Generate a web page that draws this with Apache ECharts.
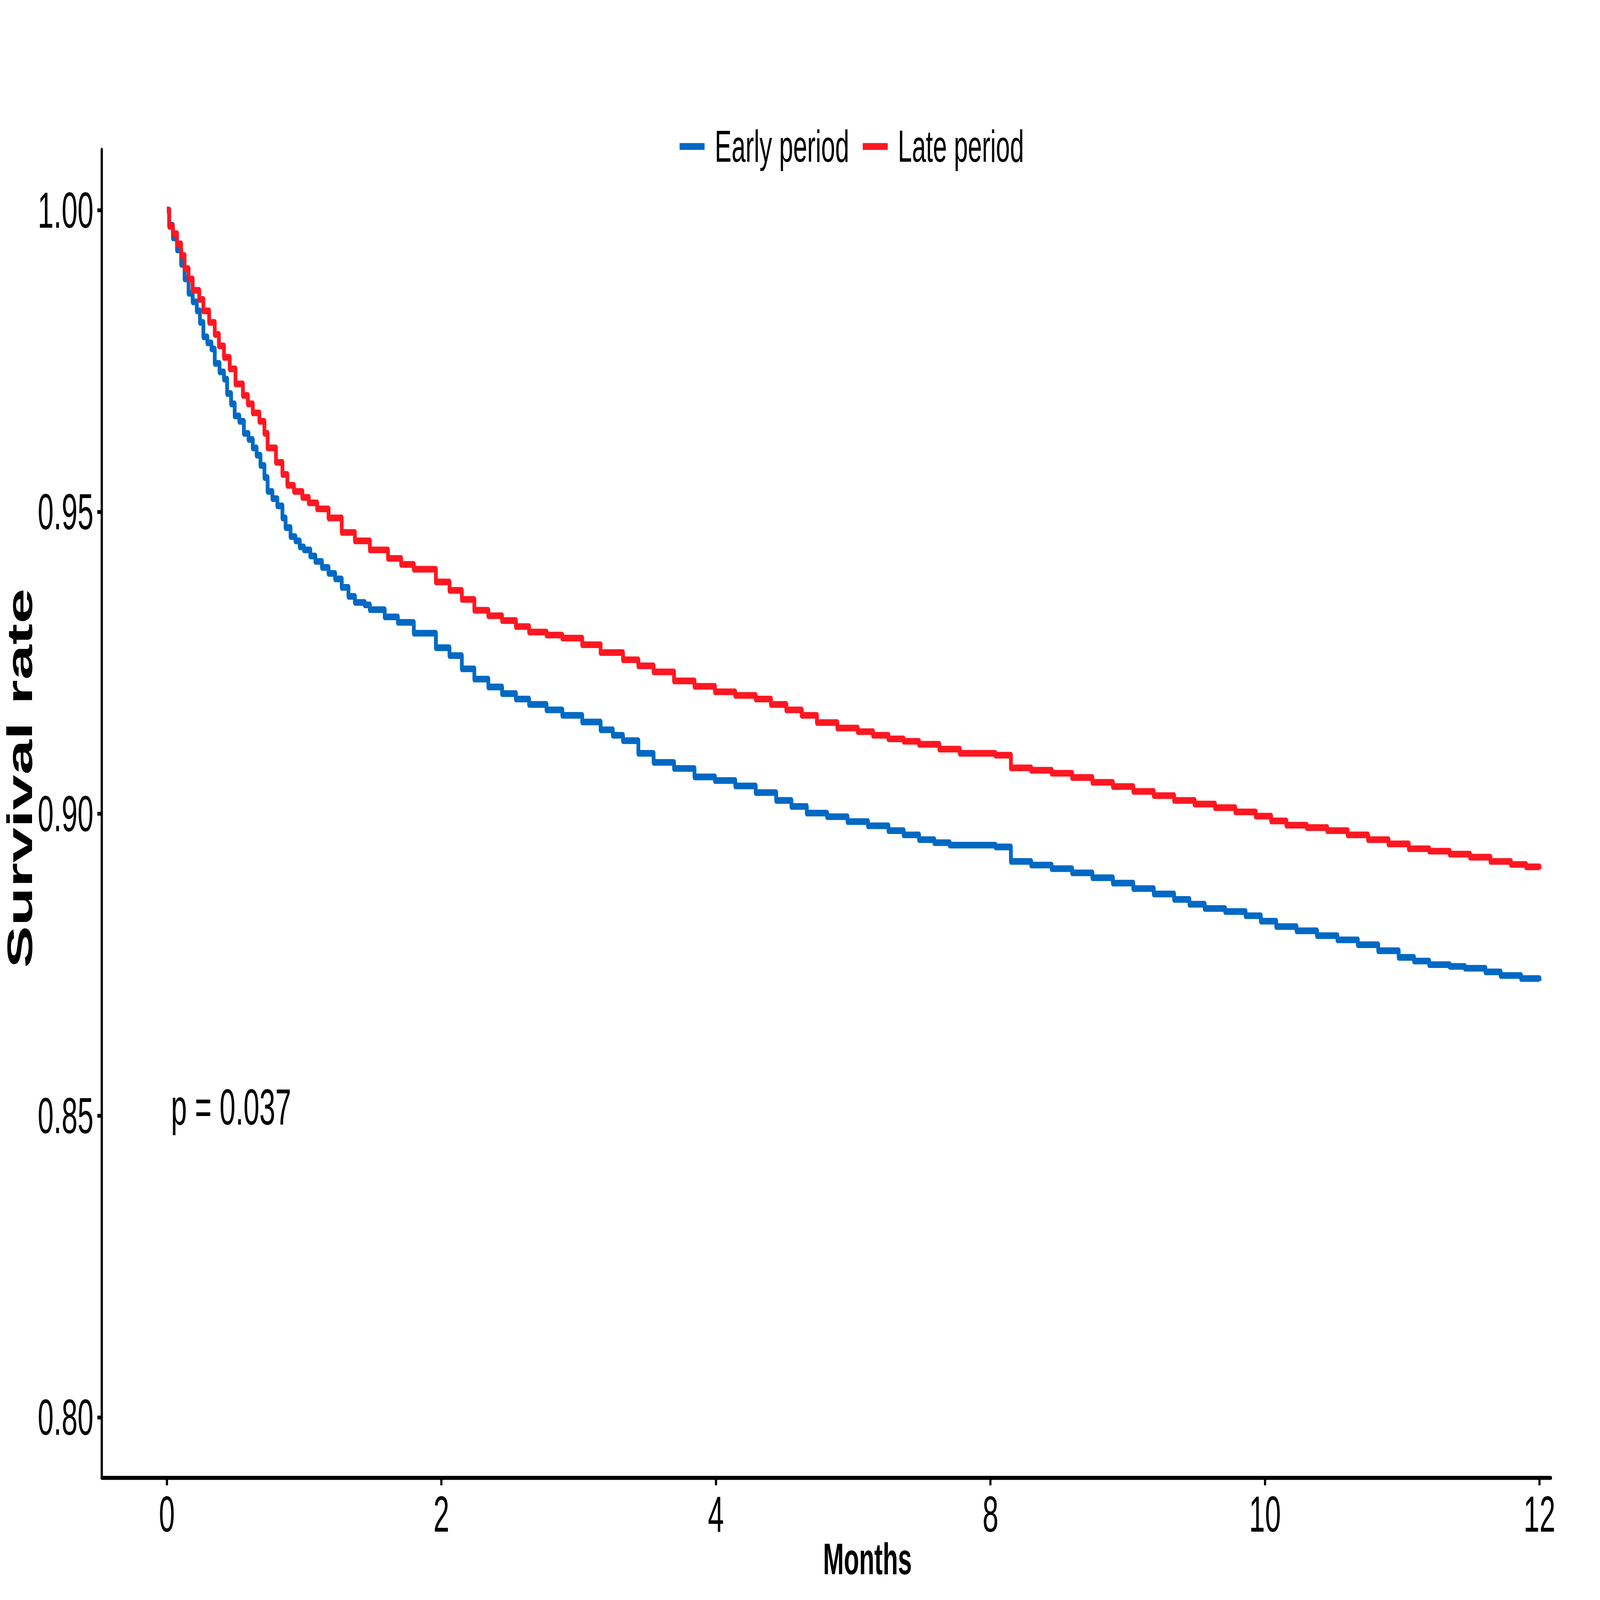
<!DOCTYPE html>
<html>
<head>
<meta charset="utf-8">
<script src="https://cdn.jsdelivr.net/npm/echarts@6/dist/echarts.min.js"></script>
<style>
  html, body { margin: 0; padding: 0; background: #ffffff; overflow: hidden; width: 100%; height: 100%; }
  #stage { position: absolute; left: 0; top: 0; width: 7428px; height: 4200px; transform-origin: 0 0; }
  #chart { width: 7428px; height: 4200px; }
</style>
</head>
<body>
<div id="stage"><div id="chart"></div></div>
<script>
// ---------------- data ----------------
const seriesNames = ['Early period', 'Late period'];
const seriesColors = ['#0069C4', '#FF1721'];

// positions of the x ticks on the axis and the labels printed at them
const xTickValues = [0, 2, 4, 6, 8, 10];
const xTickLabels = ['0', '2', '4', '8', '10', '12'];
const yTickValues = [0.80, 0.85, 0.90, 0.95, 1.00];

const earlyTime = [0, 0.017, 0.044, 0.074, 0.104, 0.129, 0.158, 0.188, 0.218, 0.241, 0.266, 0.295, 0.325, 0.349, 0.384, 0.416, 0.439, 0.468, 0.494, 0.528, 0.561, 0.595, 0.626, 0.654, 0.682, 0.711, 0.734, 0.769, 0.805, 0.842, 0.865, 0.901, 0.937, 0.968, 0.999, 1.045, 1.082, 1.130, 1.178, 1.226, 1.274, 1.323, 1.370, 1.442, 1.479, 1.587, 1.683, 1.799,
  1.960, 2.059, 2.149, 2.240, 2.342, 2.442, 2.543, 2.639, 2.766, 2.881, 3.026, 3.160, 3.249, 3.323, 3.435, 3.546, 3.695, 3.844, 3.993, 4.141, 4.290, 4.439, 4.550, 4.662, 4.810, 4.959, 5.108, 5.257, 5.368, 5.480, 5.591, 5.703, 6.037, 6.149, 6.297, 6.446, 6.595, 6.743, 6.892, 7.041, 7.190, 7.338, 7.450, 7.561, 7.710, 7.859, 7.970, 8.082, 8.230, 8.379, 8.528, 8.677, 8.825, 8.974, 9.086, 9.197, 9.346, 9.457, 9.606, 9.717, 9.866, 10.0];
const earlySurv = [1.000, 0.9975, 0.9954, 0.9934, 0.9910, 0.9886, 0.9862, 0.9848, 0.9833, 0.9814, 0.9790, 0.9780, 0.9770, 0.9746, 0.9732, 0.9720, 0.9696, 0.9679, 0.9659, 0.9650, 0.9630, 0.9620, 0.9606, 0.9594, 0.9577, 0.9557, 0.9534, 0.9522, 0.9510, 0.9490, 0.9474, 0.9459, 0.9452, 0.9442, 0.9437, 0.9427, 0.9418, 0.9408, 0.9398, 0.9389, 0.9375, 0.9360, 0.9350, 0.9346, 0.9338, 0.9326, 0.9317, 0.9299,
  0.9275, 0.9262, 0.9240, 0.9223, 0.9210, 0.9199, 0.9190, 0.9181, 0.9172, 0.9163, 0.9152, 0.9139, 0.9130, 0.9121, 0.9100, 0.9085, 0.9075, 0.9061, 0.9055, 0.9046, 0.9035, 0.9022, 0.9012, 0.9001, 0.8995, 0.8987, 0.8980, 0.8972, 0.8965, 0.8957, 0.8952, 0.8948, 0.8945, 0.8921, 0.8915, 0.8909, 0.8902, 0.8894, 0.8885, 0.8876, 0.8867, 0.8858, 0.8850, 0.8843, 0.8838, 0.8831, 0.8822, 0.8813, 0.8806, 0.8798, 0.8791, 0.8783, 0.8773, 0.8762, 0.8756, 0.8750, 0.8747, 0.8744, 0.8738, 0.8732, 0.8727, 0.8723];

const lateTime = [0, 0.017, 0.044, 0.074, 0.104, 0.129, 0.158, 0.188, 0.236, 0.266, 0.308, 0.349, 0.379, 0.416, 0.458, 0.500, 0.554, 0.590, 0.626, 0.674, 0.711, 0.734, 0.795, 0.842, 0.878, 0.926, 0.987, 1.034, 1.095, 1.178, 1.274, 1.370, 1.479, 1.611, 1.707, 1.799,
  1.960, 2.059, 2.149, 2.240, 2.342, 2.442, 2.543, 2.639, 2.766, 2.881, 3.026, 3.160, 3.323, 3.435, 3.546, 3.695, 3.844, 3.993, 4.141, 4.290, 4.401, 4.513, 4.625, 4.736, 4.885, 5.033, 5.145, 5.257, 5.368, 5.480, 5.628, 5.777, 6.037, 6.149, 6.297, 6.446, 6.595, 6.743, 6.892, 7.041, 7.190, 7.338, 7.487, 7.636, 7.784, 7.933, 8.045, 8.156, 8.305, 8.454, 8.602, 8.751, 8.900, 9.048, 9.197, 9.346, 9.494, 9.643, 9.792, 9.903, 10.0];
const lateSurv = [1.000, 0.9973, 0.9961, 0.9944, 0.9925, 0.9903, 0.9886, 0.9867, 0.9852, 0.9833, 0.9814, 0.9794, 0.9775, 0.9756, 0.9737, 0.9712, 0.9693, 0.9679, 0.9664, 0.9650, 0.9630, 0.9606, 0.9582, 0.9562, 0.9544, 0.9534, 0.9524, 0.9515, 0.9505, 0.9490, 0.9466, 0.9452, 0.9437, 0.9423, 0.9413, 0.9405,
  0.9384, 0.9370, 0.9355, 0.9337, 0.9328, 0.9320, 0.9310, 0.9301, 0.9296, 0.9291, 0.9280, 0.9267, 0.9255, 0.9245, 0.9235, 0.9220, 0.9211, 0.9202, 0.9196, 0.9190, 0.9181, 0.9172, 0.9163, 0.9151, 0.9142, 0.9136, 0.9130, 0.9124, 0.9120, 0.9115, 0.9107, 0.9100, 0.9097, 0.9076, 0.9072, 0.9067, 0.9060, 0.9052, 0.9045, 0.9037, 0.9030, 0.9022, 0.9016, 0.9010, 0.9003, 0.8996, 0.8988, 0.8981, 0.8977, 0.8972, 0.8965, 0.8957, 0.8950, 0.8942, 0.8938, 0.8933, 0.8928, 0.8921, 0.8916, 0.8912, 0.8908];

const pValueText = 'p = 0.037';
const pValueAnchor = [0.03, 0.8514];   // data coordinates of the annotation
const xAxisTitle = 'Months';
const yAxisTitle = 'Survival rate';
// -------------------------------------------------------------------------

const DESIGN_W = 7428, DESIGN_H = 4200;
const FONT = '"Liberation Sans", Arial, Helvetica, sans-serif';

// The chart is laid out at the reference size; if the window is not that size,
// the whole drawing is scaled so it still fills the window.
(function fitStage() {
  const sx = (window.innerWidth || DESIGN_W) / DESIGN_W;
  const sy = (window.innerHeight || DESIGN_H) / DESIGN_H;
  if (Math.abs(sx - 1) > 1e-3 || Math.abs(sy - 1) > 1e-3) {
    document.getElementById('stage').style.transform = 'scale(' + sx + ',' + sy + ')';
  }
})();

function zip(xs, ys) { return xs.map((x, i) => [x, ys[i]]); }

const chart = echarts.init(document.getElementById('chart'), null, { renderer: 'svg', width: DESIGN_W, height: DESIGN_H });

chart.setOption({
  backgroundColor: '#ffffff',
  animation: false,
  textStyle: { fontFamily: FONT, color: '#000' },
  grid: { left: 472, right: 228, top: 393, bottom: 321, containLabel: false },
  legend: {
    data: seriesNames,
    left: 3150,
    top: 321,
    icon: 'rect',
    itemWidth: 116,
    itemHeight: 18,
    itemGap: 63,
    textStyle: { fontFamily: FONT, fontSize: 117, color: '#000', lineHeight: 117, padding: [0, 0, 0, 42] }
  },
  xAxis: {
    type: 'value',
    min: -0.475,
    max: 10.083,
    splitLine: { show: false },
    axisLine: { show: true, onZero: false, lineStyle: { color: '#000', width: 10.5 } },
    axisTick: { show: true, inside: false, length: 20, customValues: xTickValues, lineStyle: { color: '#000', width: 10 } },
    axisLabel: {
      show: true, margin: 29, fontSize: 133, color: '#000', fontFamily: FONT,
      customValues: xTickValues,
      formatter: function (v) {
        for (let i = 0; i < xTickValues.length; i++) {
          if (Math.abs(v - xTickValues[i]) < 1e-6) return xTickLabels[i];
        }
        return '';
      }
    }
  },
  yAxis: {
    type: 'value',
    min: 0.79,
    max: 1.01,
    splitLine: { show: false },
    axisLine: { show: true, onZero: false, lineStyle: { color: '#000', width: 10.5 } },
    axisTick: { show: true, inside: false, length: 20, customValues: yTickValues, lineStyle: { color: '#000', width: 10 } },
    axisLabel: {
      show: true, margin: 38, fontSize: 133, color: '#000', fontFamily: FONT,
      customValues: yTickValues,
      formatter: function (v) { return v.toFixed(2); }
    }
  },
  series: [
    {
      name: seriesNames[0],
      type: 'line',
      step: 'end',
      showSymbol: false,
      symbol: 'none',
      color: seriesColors[0],
      lineStyle: { color: seriesColors[0], width: 17.5, join: 'round' },
      data: zip(earlyTime, earlySurv),
      z: 2
    },
    {
      name: seriesNames[1],
      type: 'line',
      step: 'end',
      showSymbol: false,
      symbol: 'none',
      color: seriesColors[1],
      lineStyle: { color: seriesColors[1], width: 17.5, join: 'round' },
      data: zip(lateTime, lateSurv),
      z: 3
    }
  ]
});

const pPix = chart.convertToPixel({ gridIndex: 0 }, pValueAnchor);

chart.setOption({
  graphic: [
    {
      type: 'text',
      x: 92,
      y: 2043,
      rotation: Math.PI / 2,
      style: { text: yAxisTitle, font: 'bold 166px ' + FONT, fill: '#000', align: 'center', verticalAlign: 'middle' }
    },
    {
      type: 'text',
      x: 4027,
      y: 4092,
      style: { text: xAxisTitle, font: 'bold 116px ' + FONT, fill: '#000', align: 'center', verticalAlign: 'middle' }
    },
    {
      type: 'text',
      x: pPix[0],
      y: pPix[1],
      style: { text: pValueText, font: '133px ' + FONT, fill: '#000', align: 'left', verticalAlign: 'middle' }
    }
  ]
});
</script>
</body>
</html>
